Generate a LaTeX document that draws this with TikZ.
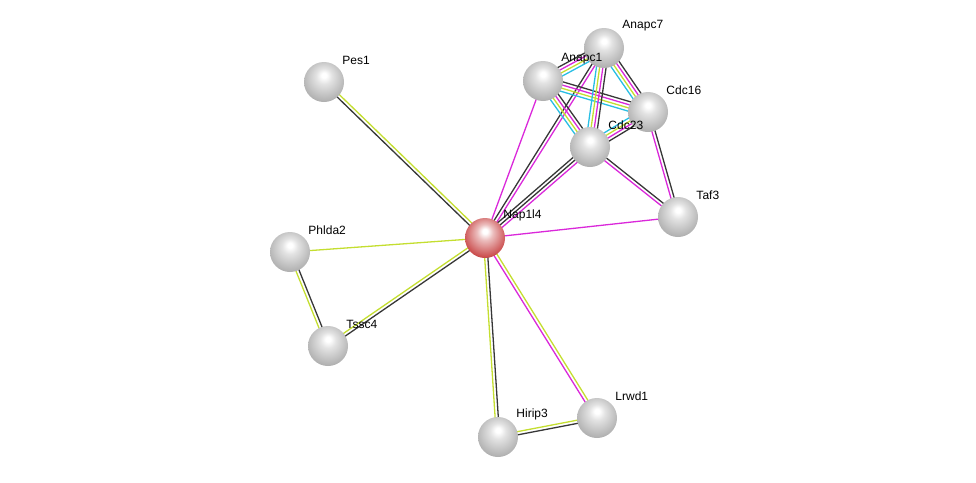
\documentclass[tikz,border=0pt]{standalone}
\usepackage{fontspec}
\setmainfont{Liberation Sans}
\usetikzlibrary{calc,backgrounds}

\definecolor{strlime}{RGB}{196,222,48}
\definecolor{strmag}{RGB}{218,40,218}
\definecolor{strcyan}{RGB}{40,190,228}
\definecolor{strdark}{RGB}{55,55,55}
\colorlet{strcol}{gray!75}

\pgfdeclareradialshading[strcol]{strsphere}{\pgfpoint{0bp}{9bp}}{%
  color(0bp)=(white); color(3bp)=(white); color(10bp)=(strcol!30!white);
  color(22bp)=(strcol!65!white); color(30bp)=(strcol!88!white); color(50bp)=(strcol!88!white)}

\tikzset{
  prot/.style={circle, minimum size=40pt, inner sep=0pt, shading=strsphere},
  query/.style={prot, /utils/exec={\definecolor{strcol}{RGB}{190,35,35}}},
  lbl/.style={font=\fontsize{12}{14}\selectfont, inner sep=1pt, anchor=south west},
  bond/.style={line width=1.3pt}
}

% parallel lines, one per colour
\newcommand{\link}[4]{%
  \foreach \c [count=\i] in {#4}{
    \pgfmathsetmacro\off{(\i-(#3+1)/2)*3.2}
    \draw[bond,\c] ($(#1)!\off pt!90:(#2)$) -- ($(#2)!\off pt!-90:(#1)$);
  }}

\begin{document}
\begin{tikzpicture}[x=1pt,y=-1pt]
  \useasboundingbox (0,0) rectangle (976,482);

  \node (Nap1l4) [query] at (485,238) {};
  \node (Pes1) [prot] at (324,82) {};
  \node (Phlda2) [prot] at (290,252) {};
  \node (Tssc4) [prot] at (328,346) {};
  \node (Hirip3) [prot] at (498,437) {};
  \node (Lrwd1) [prot] at (597,418) {};
  \node (Taf3) [prot] at (678,217) {};
  \node (Cdc23) [prot] at (590,147) {};
  \node (Cdc16) [prot] at (648,112) {};
  \node (Anapc1) [prot] at (543,81) {};
  \node (Anapc7) [prot] at (604,48) {};

  % labels on top of the spheres
  \foreach \n in {Nap1l4,Pes1,Phlda2,Tssc4,Hirip3,Lrwd1,Taf3,Cdc23,Cdc16,Anapc1,Anapc7}
    \node (\n-l) [lbl] at ($(\n.north east)+(3,-2)$) {\n};

  \begin{pgfonlayer}{background}
  \link{Nap1l4}{Pes1}{2}{strlime,strdark}
  \link{Nap1l4}{Phlda2}{1}{strlime}
  \link{Nap1l4}{Tssc4}{2}{strlime,strdark}
  \link{Phlda2}{Tssc4}{2}{strlime,strdark}
  \link{Nap1l4}{Hirip3}{2}{strlime,strdark}
  \link{Hirip3}{Lrwd1}{2}{strdark,strlime}
  \link{Nap1l4}{Lrwd1}{2}{strmag,strlime}
  \link{Nap1l4}{Taf3}{1}{strmag}
  \link{Nap1l4}{Anapc1}{1}{strmag}
  \link{Nap1l4}{Anapc7}{2}{strmag,strdark}
  \link{Nap1l4}{Cdc23}{3}{strmag,strdark,strdark}
  \link{Anapc1}{Anapc7}{4}{strcyan,strlime,strmag,strdark}
  \link{Anapc1}{Cdc16}{4}{strcyan,strlime,strmag,strdark}
  \link{Anapc1}{Cdc23}{4}{strcyan,strlime,strmag,strdark}
  \link{Anapc7}{Cdc16}{4}{strcyan,strlime,strmag,strdark}
  \link{Anapc7}{Cdc23}{4}{strcyan,strlime,strmag,strdark}
  \link{Cdc16}{Cdc23}{4}{strcyan,strlime,strmag,strdark}
  \link{Cdc16}{Taf3}{2}{strmag,strdark}
  \link{Cdc23}{Taf3}{2}{strmag,strdark}
  \end{pgfonlayer}
\end{tikzpicture}
\end{document}
